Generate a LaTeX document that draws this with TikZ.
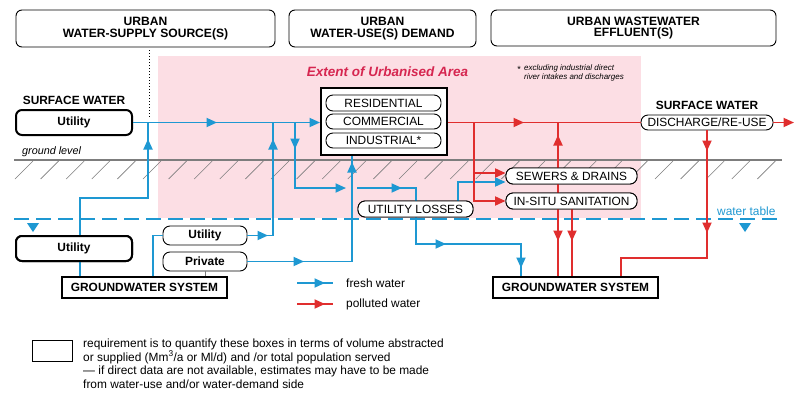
\documentclass[tikz,border=0pt]{standalone}
\usepackage{fontspec}
\setmainfont{Liberation Sans}
\usetikzlibrary{arrows.meta}
\definecolor{fw}{RGB}{30,152,210}
\definecolor{pw}{RGB}{224,46,46}
\definecolor{pinkbg}{RGB}{252,222,228}
\definecolor{extc}{RGB}{214,38,80}
\definecolor{gline}{RGB}{125,125,125}
\newcommand\myfs{\fontsize{11.9}{11.9}\selectfont}
\tikzset{
  ar/.style={-{Triangle[length=10.5pt,width=9pt]}},
  fl/.style={draw=fw, line width=1.8pt},
  pl/.style={draw=pw, line width=1.8pt},
  hdr/.style={draw, rounded corners=6pt, line width=0.9pt, fill=white, align=center, inner sep=0pt, font=\fontsize{12.1}{11.6}\selectfont\bfseries},
  tbox/.style={draw, rounded corners=6pt, line width=2pt, fill=white, inner sep=0pt, font=\myfs\bfseries},
  pill/.style={draw, rounded corners=7pt, line width=0.9pt, fill=white, inner sep=0pt, font=\myfs},
  bpill/.style={pill, font=\myfs\bfseries},
  gws/.style={draw, line width=1.5pt, fill=white, inner sep=0pt, font=\myfs\bfseries},
  lbl/.style={inner sep=0pt, font=\myfs}
}
\begin{document}
\begin{tikzpicture}[x=1pt,y=-1pt]
\useasboundingbox[fill=white] (0,0) rectangle (800,402);
% pink urban area
\fill[pinkbg] (158,56) rectangle (641,218);
% ground level
\foreach \i in {0,...,29} \draw[gline, line width=0.6pt] ({15+25.6*\i},179) -- ({33+25.6*\i},161);
\draw[gline, line width=1.6pt] (14,160) -- (782,160);
% water table
\draw[fw, line width=1.8pt, dash pattern=on 15pt off 7pt] (14,219) -- (782,219);
\fill[fw] (27,223) -- (39,223) -- (33,232) -- cycle;
\fill[fw] (739,223) -- (751,223) -- (745,232) -- cycle;
\node[lbl, anchor=west, text=fw] (wt) at (717,211) {water table};
\node[lbl, anchor=west, font=\fontsize{10.8}{10.8}\selectfont\itshape] (gl) at (22,152) {ground level};
% headers
\node[hdr, minimum width=259pt, minimum height=37pt] (h1) at (145.5,28.5) {URBAN\\WATER-SUPPLY SOURCE(S)};
\node[hdr, minimum width=187pt, minimum height=37pt] (h2) at (382.5,28.5) {URBAN\\WATER-USE(S) DEMAND};
\node[hdr, minimum width=285pt, minimum height=36pt] (h3) at (633.5,28) {URBAN WASTEWATER\\EFFLUENT(S)};
\draw[dotted, line width=1pt] (149,50) -- (149,118);
% area texts
\node[inner sep=0pt, text=extc, font=\fontsize{13.5}{13.5}\selectfont\bfseries\itshape] (ext) at (387.5,72) {Extent of Urbanised Area};
\node[inner sep=0pt, font=\fontsize{9}{9}\selectfont] (ast) at (519,69) {*};
\node[inner sep=0pt, anchor=north west, align=left, font=\fontsize{8.0}{9}\selectfont\itshape] (note) at (524,64.5) {excluding industrial direct\\river intakes and discharges};
\node[lbl, font=\myfs\bfseries] (swl) at (74,100.5) {SURFACE WATER};
\node[lbl, font=\myfs\bfseries] (swr) at (707,105) {SURFACE WATER};
% bend coordinates
\coordinate (c1) at (80,198);
\coordinate (c2) at (148,198);
\coordinate (c3) at (273,235.5);
\coordinate (c4) at (153,235.5);
\coordinate (c5) at (352,261.5);
\coordinate (c6) at (295,188);
\coordinate (c6b) at (295,122.5);
\coordinate (c7) at (416,188);
\coordinate (c8) at (416,244);
\coordinate (c9) at (521,244);
\coordinate (c10) at (458,182);
% boxes
\node[tbox, minimum width=116pt, minimum height=25pt] (swutil) at (74,122.5) {Utility};
\node[tbox, minimum width=116pt, minimum height=25pt] (gwutil) at (74,248.5) {Utility};
\node[draw, line width=2pt, fill=white, minimum width=126pt, minimum height=67pt] (usebox) at (384,121) {};
\node[bpill, minimum width=84pt, minimum height=19pt] (gutil) at (205,235.5) {Utility};
\node[bpill, minimum width=84pt, minimum height=19pt] (priv) at (205,261.5) {Private};
\node[gws, minimum width=165pt, minimum height=21pt] (gwL) at (144.5,287.5) {GROUNDWATER SYSTEM};
\node[gws, minimum width=165pt, minimum height=21pt] (gwR) at (575.5,287.5) {GROUNDWATER SYSTEM};
\node[pill, minimum width=115pt, minimum height=16pt] (losses) at (415.5,209) {UTILITY LOSSES};
\node[pill, minimum width=131pt, minimum height=16pt] (sewers) at (571.5,176) {SEWERS \& DRAINS};
\node[pill, minimum width=131pt, minimum height=16pt] (insitu) at (571.5,201) {IN-SITU SANITATION};
\node[pill, minimum width=132pt, minimum height=15pt] (disch) at (707,122.5) {DISCHARGE/RE-USE};
% blue lines
\draw[fl,ar] (swutil.east) -- (217,122.5);
\draw[fl,ar] (215,122.5) -- (usebox.west |- swutil.east);
\draw[fl] (gwL.north -| c1) -- (gwutil.south -| c1);
\draw[fl,ar] (gwutil.north -| c1) -- (c1) -- (c2) -- (148,139);
\draw[fl] (148,141) -- (148,122.5);
\draw[fl] (gwL.north -| c4) -- (c4) -- (gutil.west);
\draw[fl,ar] (gutil.east) -- (268,235.5);
\draw[fl,ar] (266,235.5) -- (c3) -- (273,139);
\draw[fl] (273,141) -- (273,122.5);
\draw[fl,ar] (priv.east) -- (304,261.5);
\draw[fl,ar] (302,261.5) -- (c5) -- (352,162);
\draw[fl] (352,164) -- (usebox.south -| c5);
\draw[fl,ar] (c6b) -- (295,149);
\draw[fl,ar] (295,147) -- (c6) -- (346,188);
\draw[fl,ar] (357,188) -- (402,188);
\draw[fl] (400,188) -- (c7) -- (losses.north -| c7);
\draw[fl,ar] (losses.south -| c8) -- (c8) -- (446,244);
\draw[fl,ar] (444,244) -- (c9) -- (521,268);
\draw[fl] (521,266) -- (gwR.north -| c9);
\draw[fl,ar] (losses.north -| c10) -- (c10) -- (sewers.west |- c10);
% red lines
\coordinate (r1) at (474,122.5);
\coordinate (r2) at (474,173);
\coordinate (r3) at (474,201);
\coordinate (r4) at (558,122.5);
\coordinate (r5) at (572,241);
\coordinate (r6) at (707,258);
\coordinate (r7) at (621,258);
\draw[pl,ar] (usebox.east |- swutil.east) -- (524,122.5);
\draw[pl] (522,122.5) -- (disch.west);
\draw[pl,ar] (disch.east) -- (794,122.5);
\draw[pl,ar] (r1) -- (r3) -- (insitu.west);
\draw[pl,ar] (r2) -- (sewers.west |- r2);
\draw[pl,ar] (gwR.north -| r4) -- (558,135);
\draw[pl] (558,137) -- (r4);
\draw[pl,ar] (558,215) -- (558,241);
\draw[pl,ar] (insitu.south -| r5) -- (r5);
\draw[pl] (572,239) -- (gwR.north -| r5);
\draw[pl,ar] (disch.south) -- (707,151);
\draw[pl,ar] (707,149) -- (707,233);
\draw[pl] (707,231) -- (r6) -- (r7) -- (gwR.north -| r7);
% boxes drawn again over the lines that pass behind them
\node[pill, minimum width=115pt, minimum height=16pt] at (losses) {UTILITY LOSSES};
\node[pill, minimum width=131pt, minimum height=16pt] at (sewers) {SEWERS \& DRAINS};
\node[pill, minimum width=131pt, minimum height=16pt] at (insitu) {IN-SITU SANITATION};
\node[pill, minimum width=115pt, minimum height=16pt] (res) at (383.5,103) {RESIDENTIAL};
\node[pill, minimum width=115pt, minimum height=15pt] (com) at (383.5,121.5) {COMMERCIAL};
\node[pill, minimum width=115pt, minimum height=15pt] (ind) at (383.5,140.5) {INDUSTRIAL*};
\node[tbox, minimum width=116pt, minimum height=25pt] at (gwutil) {Utility};
\draw[gline, line width=0.8pt] (priv.south) -- (gwL.north -| priv.south);
% legend
\coordinate (l1) at (297,283);
\coordinate (l2) at (325,283);
\coordinate (l3) at (333,283);
\coordinate (l4) at (297,304);
\coordinate (l5) at (325,304);
\coordinate (l6) at (333,304);
\draw[fl] (l1) -- (l3); \draw[fl,ar] (l1) -- (l2);
\draw[pl] (l4) -- (l6); \draw[pl,ar] (l4) -- (l5);
\node[lbl, anchor=west] (fwt) at (346,283) {fresh water};
\node[lbl, anchor=west] (pwt) at (346,304) {polluted water};
\node[draw, line width=1pt, inner sep=0pt, minimum width=40pt, minimum height=21pt] (legbox) at (52,350.5) {};
\node[inner sep=0pt, anchor=north west, align=left, font=\fontsize{11.9}{13.7}\selectfont] (legtxt) at (83,338.5) {requirement is to quantify these boxes in terms of volume abstracted\\or supplied (Mm\textsuperscript{3}/a or Ml/d) and /or total population served\\— if direct data are not available, estimates may have to be made\\from water-use and/or water-demand side};
\end{tikzpicture}
\end{document}
